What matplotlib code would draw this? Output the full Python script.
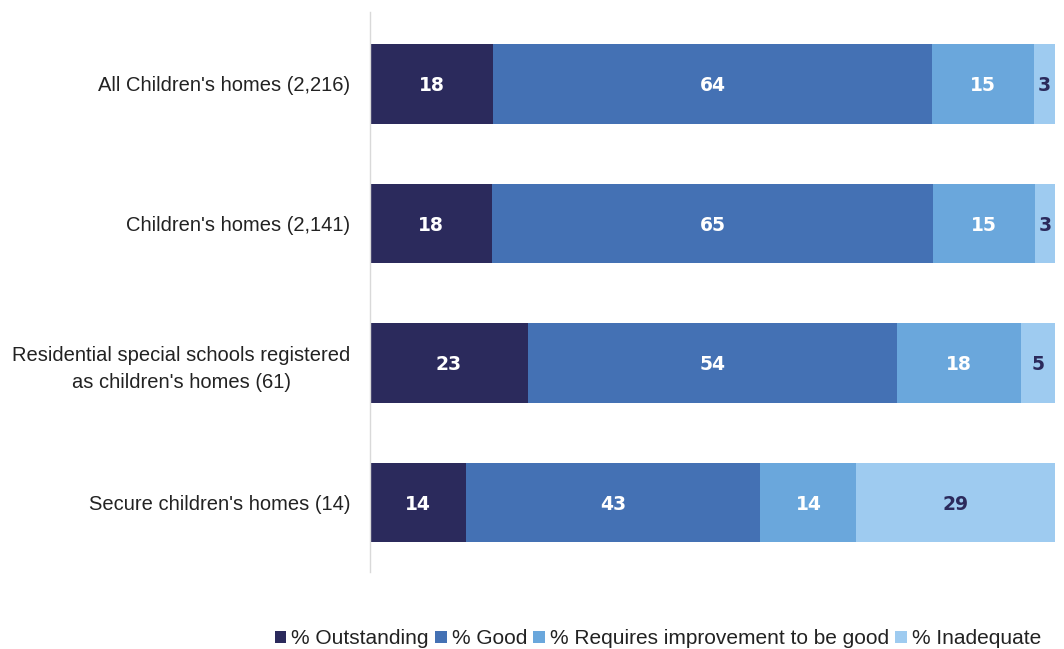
import matplotlib
matplotlib.use("Agg")
import matplotlib.pyplot as plt
from matplotlib.patches import Patch

categories = [
    "All Children's homes (2,216)",
    "Children's homes (2,141)",
    "Residential special schools registered\nas children's homes (61)",
    "Secure children's homes (14)",
]
series_names = ["% Outstanding", "% Good", "% Requires improvement to be good", "% Inadequate"]
outstanding = [18, 18, 23, 14]
good = [64, 65, 54, 43]
requires_improvement = [15, 15, 18, 14]
inadequate = [3, 3, 5, 29]

colors = ["#2b2a5c", "#4471b4", "#6aa7dc", "#9ecbf0"]
label_colors = ["white", "white", "white", "#2b2a5c"]

fig = plt.figure(figsize=(10.64, 6.49), dpi=100)
ax = fig.add_axes([370 / 1064, 1 - 572 / 649, 685 / 1064, 560 / 649])

series = [outstanding, good, requires_improvement, inadequate]
# 100% stacked: each row is scaled to its own total
totals = [sum(col) for col in zip(*series)]
y = list(range(len(categories)))
left = [0.0] * len(categories)
for vals, col, lcol in zip(series, colors, label_colors):
    widths = [v * 100.0 / t for v, t in zip(vals, totals)]
    bars = ax.barh(y, widths, left=left, height=0.57, color=col, edgecolor="none")
    for b, v in zip(bars, vals):
        ax.text(b.get_x() + b.get_width() / 2, b.get_y() + b.get_height() / 2, f"{v}",
                ha="center", va="center_baseline", color=lcol, fontsize=13.5,
                fontweight="bold", family="DejaVu Sans")
    left = [l + w for l, w in zip(left, widths)]

ax.set_xlim(0, 100)
ax.set_ylim(3.5, -0.515)
ax.set_yticks(y)
ax.set_yticklabels(categories, fontsize=14.5, family="Liberation Sans", color="#222222",
                   multialignment="center", linespacing=1.55)
ax.tick_params(axis="y", length=0, pad=14)
ax.set_xticks([])
for s in ["top", "right", "bottom"]:
    ax.spines[s].set_visible(False)
ax.spines["left"].set_color("#d9d9d9")
ax.spines["left"].set_linewidth(1.0)

handles = [Patch(facecolor=c, edgecolor="none") for c in colors]
fig.legend(handles, series_names, loc="center", bbox_to_anchor=(658 / 1064, 1 - 639 / 649),
           ncol=4, frameon=False, prop={"family": "Liberation Sans", "size": 15},
           handlelength=0.55, handleheight=0.55, handletextpad=0.25, columnspacing=0.3,
           labelcolor="#222222", borderpad=0.1)

fig.savefig("out.png", dpi=100, facecolor="white")
